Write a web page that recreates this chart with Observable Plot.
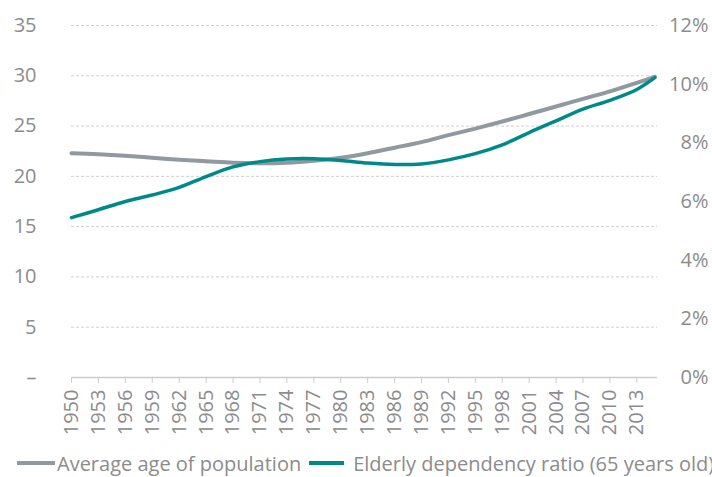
<!DOCTYPE html>
<html><head><meta charset="utf-8">
<script src="https://cdn.jsdelivr.net/npm/d3@7"></script>
<script src="https://cdn.jsdelivr.net/npm/@observablehq/plot@0.6"></script>
<style>
html,body{margin:0;padding:0;background:#fff;overflow:hidden;}
body{width:712px;height:477px;position:relative;font-family:"Open Sans",sans-serif;}
#legend{position:absolute;left:17px;top:451px;white-space:nowrap;font-size:20px;color:#8c8c8c;display:flex;align-items:center;height:24px;}
.sw{display:inline-block;height:4px;}
</style></head><body>
<div id="chart"></div>
<div id="legend"></div>
<script>
// Data
const years = [1950,1953,1956,1959,1962,1965,1968,1971,1974,1977,1980,1983,1986,1989,1992,1995,1998,2001,2004,2007,2010,2013,2015];
const averageAge = [22.3,22.2,22.05,21.85,21.65,21.5,21.35,21.3,21.35,21.55,21.85,22.3,22.85,23.4,24.1,24.75,25.45,26.2,26.95,27.7,28.45,29.3,29.9];
const dependencyPct = [5.45,5.72,6.0,6.22,6.48,6.85,7.18,7.36,7.45,7.46,7.40,7.31,7.26,7.28,7.42,7.63,7.93,8.35,8.75,9.15,9.45,9.82,10.22];
const seriesNames = ["Average age of population","Elderly dependency ratio (65 years old)"];
const seriesColors = ["#8f999f","#00898a"];
const leftTicks = [0,5,10,15,20,25,30,35];
const rightTicks = [0,2,4,6,8,10,12];
const xTicks = [1950,1953,1956,1959,1962,1965,1968,1971,1974,1977,1980,1983,1986,1989,1992,1995,1998,2001,2004,2007,2010,2013];

const leftMax = 35, rightMax = 12;
const pctToLeft = leftMax / rightMax;

const ageData = years.map((y,i)=>({year:y, value:averageAge[i]}));
const depData = years.map((y,i)=>({year:y, value:dependencyPct[i]*pctToLeft}));

const textColor = "#8c8c8c";
const chart = Plot.plot({
  width: 712, height: 448,
  marginTop: 25, marginBottom: 71, marginLeft: 71, marginRight: 55,
  x: {domain: [1950, 2015.3]},
  y: {domain: [0, leftMax]},
  style: {fontFamily: "'Open Sans', sans-serif", fontSize: "20px", color: textColor, background: "#fff"},
  marks: [
    Plot.gridY(leftTicks.filter(d=>d>0), {stroke:"#cfcfcf", strokeOpacity:1, strokeDasharray:"3,2"}),
    Plot.axisY(leftTicks, {anchor:"left", label:null, tickSize:0, tickPadding:35, fill:textColor, tickFormat:d=> d===0 ? "–" : String(d)}),
    Plot.axisY(rightTicks.map(d=>d*pctToLeft), {anchor:"right", label:null, tickSize:0, tickPadding:0, textAnchor:"end", dx:51, fill:textColor, tickFormat:d=> Math.round(d/pctToLeft)+"%"}),
    Plot.ruleY([0], {stroke:"#cccccc", strokeWidth:1.5}),
    Plot.axisX(xTicks, {anchor:"bottom", label:null, tickRotate:-90, tickSize:6, tickPadding:6, stroke:"#cccccc", fill:textColor, fontSize:20, tickFormat:d=>String(d)}),
    Plot.line(ageData, {x:"year", y:"value", stroke:seriesColors[0], strokeWidth:4, curve:"catmull-rom"}),
    Plot.line(depData, {x:"year", y:"value", stroke:seriesColors[1], strokeWidth:3.5, curve:"catmull-rom"})
  ]
});
document.getElementById("chart").appendChild(chart);

const legend = document.getElementById("legend");
seriesNames.forEach((name,i)=>{
  const sw = document.createElement("span");
  sw.className = "sw";
  sw.style.background = seriesColors[i];
  sw.style.width = (i===0 ? 38 : 35) + "px";
  sw.style.marginLeft = (i===0 ? "0px" : "8px");
  sw.style.marginRight = (i===0 ? "2px" : "9px");
  const t = document.createElement("span");
  t.textContent = name;
  legend.appendChild(sw);
  legend.appendChild(t);
});
</script>
</body></html>
